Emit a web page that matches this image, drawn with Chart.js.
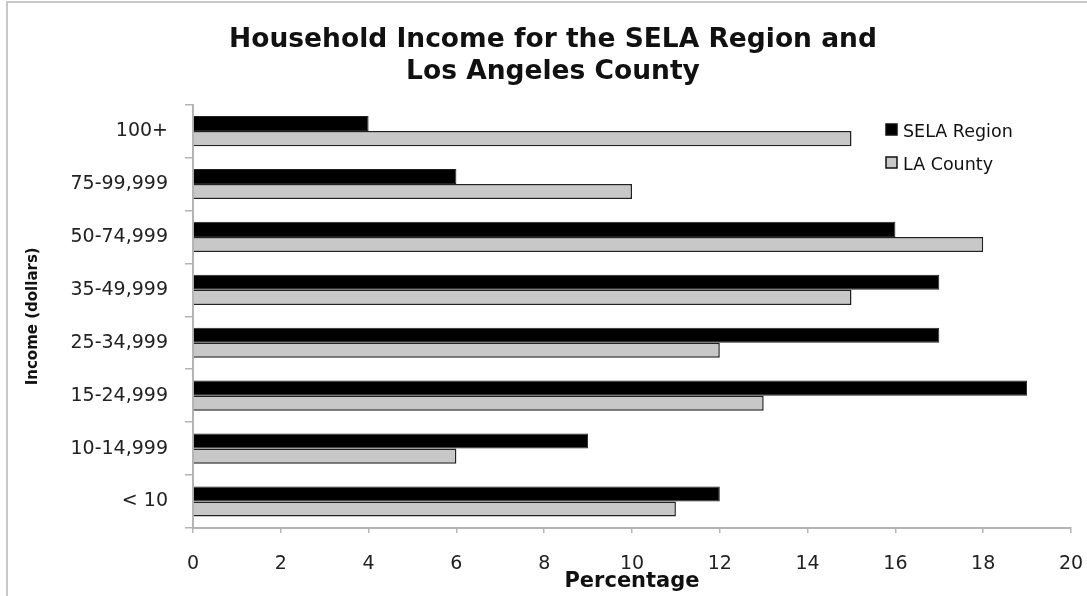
<!DOCTYPE html>
<html>
<head>
<meta charset="utf-8">
<script src="https://cdn.jsdelivr.net/npm/chart.js@4"></script>
<style>
    html, body { margin: 0; padding: 0; background: #fff; overflow: hidden; }
    canvas { display: block; }
</style>
</head>
<body>
<canvas id="incomeChart" width="1087" height="596"></canvas>
<script>
const categories = ["100+", "75-99,999", "50-74,999", "35-49,999", "25-34,999", "15-24,999", "10-14,999", "< 10"];
const selaRegion = [4, 6, 16, 17, 17, 19, 9, 12];
const laCounty = [15, 10, 18, 15, 12, 13, 6, 11];
const xTicks = [0, 2, 4, 6, 8, 10, 12, 14, 16, 18, 20];

const FONT = "'DejaVu Sans', sans-serif";

// grey frame on the top and left edges, like the cropped original
const frame = {
    id: "frame",
    beforeDraw(chart) {
        const ctx = chart.ctx;
        ctx.save();
        ctx.strokeStyle = "#c8c8c8";
        ctx.lineWidth = 2;
        ctx.beginPath();
        ctx.moveTo(7, chart.height);
        ctx.lineTo(7, 2);
        ctx.lineTo(chart.width, 2);
        ctx.stroke();
        ctx.restore();
    }
};

// legend drawn inside the plot, top right
const insideLegend = {
    id: "insideLegend",
    afterDraw(chart) {
        const ctx = chart.ctx;
        ctx.save();
        ctx.font = "17.5px " + FONT;
        ctx.textBaseline = "alphabetic";
        chart.data.datasets.forEach(function (ds, i) {
            const y = 124 + i * 33;
            ctx.fillStyle = ds.backgroundColor;
            ctx.strokeStyle = "#111";
            ctx.lineWidth = 1.5;
            ctx.fillRect(886, y, 11, 11);
            ctx.strokeRect(886, y, 11, 11);
            ctx.fillStyle = "#111";
            ctx.fillText(ds.label, 903, y + 13);
        });
        ctx.restore();
    }
};

new Chart(document.getElementById("incomeChart").getContext("2d"), {
    type: "bar",
    data: {
        labels: categories,
        datasets: [
            { label: "SELA Region", data: selaRegion, backgroundColor: "#000000", borderColor: "#222", borderWidth: 1 },
            { label: "LA County", data: laCounty, backgroundColor: "#c8c8c8", borderColor: "#222", borderWidth: 1.5 }
        ]
    },
    options: {
        indexAxis: "y",
        responsive: false,
        animation: false,
        layout: { padding: { left: 35, right: 16, top: 0, bottom: 0 } },
        datasets: { bar: { barPercentage: 1, categoryPercentage: 0.57 } },
        plugins: {
            legend: { display: false },
            tooltip: { enabled: false },
            title: {
                display: true,
                text: ["Household Income for the SELA Region and", "Los Angeles County"],
                color: "#111",
                font: { family: FONT, size: 26.5, weight: "bold", lineHeight: 1.2 },
                padding: { top: 24, bottom: 17 }
            }
        },
        scales: {
            x: {
                min: 0,
                max: 20,
                afterBuildTicks(s) { s.ticks = xTicks.map(v => ({ value: v })); },
                afterFit(s) { s.height = 68; s.paddingLeft = 0; s.paddingRight = 0; },
                grid: { drawOnChartArea: false, color: "#b4b4b4", tickLength: 5, lineWidth: 1.5 },
                border: { color: "#b4b4b4", width: 2 },
                ticks: { color: "#222", padding: 20, font: { family: FONT, size: 19 }, maxRotation: 0 },
                title: {
                    display: true,
                    text: "Percentage",
                    color: "#111",
                    font: { family: FONT, size: 21, weight: "bold" },
                    padding: { top: 0, bottom: 2 }
                }
            },
            y: {
                afterFit(s) { s.width = 158; },
                grid: { drawOnChartArea: false, color: "#b4b4b4", tickLength: 8, lineWidth: 1.5 },
                border: { color: "#b4b4b4", width: 2 },
                ticks: { color: "#222", padding: 17, font: { family: FONT, size: 19 } },
                title: {
                    display: true,
                    text: "Income (dollars)",
                    color: "#111",
                    font: { family: FONT, size: 15, weight: "bold" },
                    padding: { top: -11, bottom: 0 }
                }
            }
        }
    },
    plugins: [frame, insideLegend]
});
</script>
</body>
</html>
